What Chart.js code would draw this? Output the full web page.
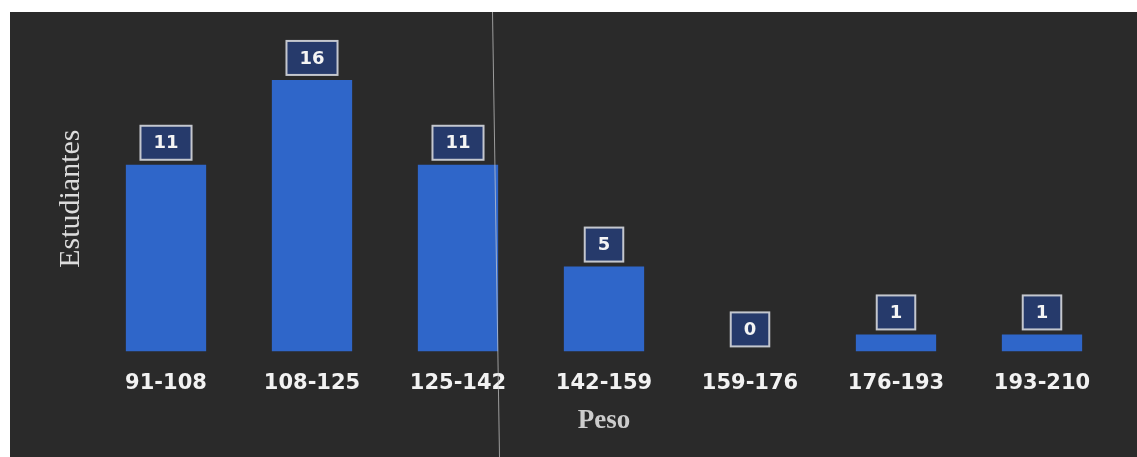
<!DOCTYPE html>
<html>
<head>
<meta charset="utf-8">
<script src="https://cdn.jsdelivr.net/npm/chart.js@4.4.1/dist/chart.umd.min.js"></script>
<style>
  html, body { margin: 0; padding: 0; background: #ffffff; }
  #frame { position: absolute; left: 10px; top: 12px; width: 1127px; height: 445px; background: #2a2a2a; }
  #frame canvas { display: block; }
</style>
</head>
<body>
<div id="frame"><canvas id="c"></canvas></div>
<script>
const categories = ["91-108", "108-125", "125-142", "142-159", "159-176", "176-193", "193-210"];
const estudiantes = [11, 16, 11, 5, 0, 1, 1];
const xTitle = "Peso";
const yTitle = "Estudiantes";

const labelBoxes = {
  id: 'labelBoxes',
  afterDatasetsDraw(chart) {
    const ctx = chart.ctx;
    const meta = chart.getDatasetMeta(0);
    ctx.save();
    ctx.font = 'bold 18px "DejaVu Sans", sans-serif';
    ctx.textAlign = 'center';
    ctx.textBaseline = 'middle';
    meta.data.forEach((bar, i) => {
      const txt = String(chart.data.datasets[0].data[i]);
      const tw = ctx.measureText(txt).width;
      const w = tw + 26, h = 34;
      const top = Math.min(bar.y, bar.base);
      const bottom = top - 5;
      const x0 = bar.x - w / 2, y0 = bottom - h;
      ctx.fillStyle = '#263a6b';
      ctx.fillRect(x0, y0, w, h);
      ctx.lineWidth = 2;
      ctx.strokeStyle = '#c4c7ce';
      ctx.strokeRect(x0, y0, w, h);
      ctx.fillStyle = '#f4f4f4';
      ctx.fillText(txt, bar.x, y0 + h / 2 + 1);
    });
    ctx.restore();
  }
};

const foldLine = {
  id: 'foldLine',
  afterDraw(chart) {
    const ctx = chart.ctx;
    ctx.save();
    ctx.strokeStyle = 'rgba(205,205,205,0.7)';
    ctx.lineWidth = 1;
    ctx.beginPath();
    ctx.moveTo(482.5, 0);
    ctx.lineTo(489.5, chart.height);
    ctx.stroke();
    ctx.restore();
  }
};

new Chart(document.getElementById('c'), {
  type: 'bar',
  data: {
    labels: categories,
    datasets: [{
      label: yTitle,
      data: estudiantes,
      backgroundColor: '#2f66c9',
      borderWidth: 0,
      barPercentage: 0.55,
      categoryPercentage: 1.0
    }]
  },
  options: {
    responsive: true,
    maintainAspectRatio: false,
    animation: false,
    layout: { padding: { left: 39, right: 22, top: 34, bottom: 16 } },
    plugins: { legend: { display: false }, tooltip: { enabled: false } },
    scales: {
      x: {
        grid: { display: false, drawTicks: false },
        border: { display: false },
        ticks: {
          color: '#f2f2f2',
          padding: 20,
          font: { family: '"DejaVu Sans", sans-serif', size: 21, weight: 'bold' },
          maxRotation: 0
        },
        title: {
          display: true,
          text: xTitle,
          color: '#cccccc',
          font: { family: '"Liberation Serif", serif', size: 27, weight: 'bold' },
          padding: { top: -12, bottom: 4 }
        }
      },
      y: {
        min: 0,
        max: 18,
        grid: { display: false, drawTicks: false },
        border: { display: false },
        ticks: { display: false },
        title: {
          display: true,
          text: yTitle,
          color: '#dcdcdc',
          font: { family: '"Liberation Serif", serif', size: 30, weight: 'normal' },
          padding: { top: 4, bottom: 4 }
        }
      }
    }
  },
  plugins: [labelBoxes, foldLine]
});
</script>
</body>
</html>
